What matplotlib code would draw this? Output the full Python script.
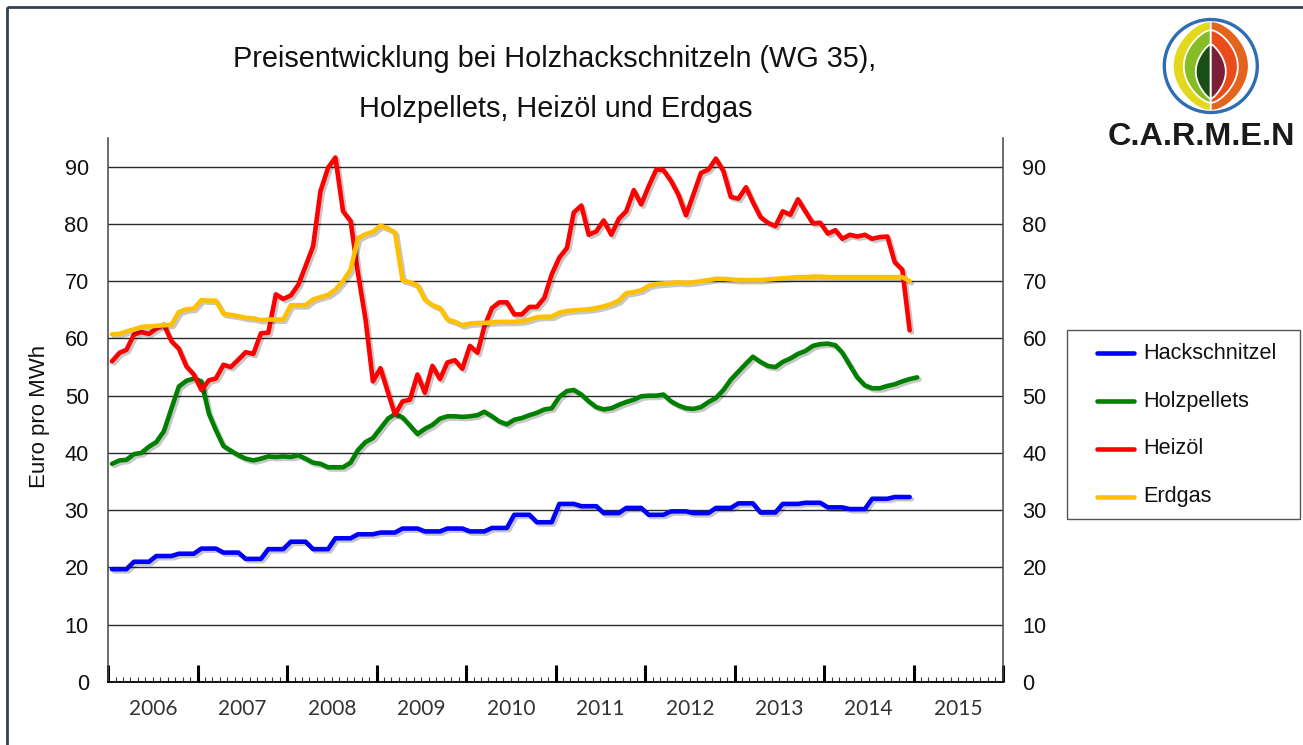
import numpy as np
import pandas as pd
import matplotlib
matplotlib.use('Agg')
import matplotlib.pyplot as plt
import matplotlib.dates as mdates
import matplotlib.patheffects as pe
from matplotlib.patches import Rectangle, Circle, Polygon
from matplotlib.lines import Line2D
from matplotlib.transforms import blended_transform_factory

plt.rcParams['font.family'] = ['Liberation Sans', 'DejaVu Sans']

# ---------------- data ----------------
series_names = ['Hackschnitzel', 'Holzpellets', 'Heizöl', 'Erdgas']
series_colors = ['#0000FF', '#008000', '#FF0000', '#FFC000']
start_month = '2006-01'

hackschnitzel = [
    19.7, 19.7, 19.7, 21.0, 21.0, 21.0, 22.0, 22.0, 22.0, 22.4, 22.4, 22.4,
    23.3, 23.3, 23.3, 22.6, 22.6, 22.6, 21.5, 21.5, 21.5, 23.2, 23.2, 23.2,
    24.5, 24.5, 24.5, 23.2, 23.2, 23.2, 25.1, 25.1, 25.1, 25.8, 25.8, 25.8,
    26.1, 26.1, 26.1, 26.8, 26.8, 26.8, 26.3, 26.3, 26.3, 26.8, 26.8, 26.8,
    26.3, 26.3, 26.3, 26.9, 26.9, 26.9, 29.2, 29.2, 29.2, 27.9, 27.9, 27.9,
    31.1, 31.1, 31.1, 30.7, 30.7, 30.7, 29.5, 29.5, 29.5, 30.4, 30.4, 30.4,
    29.2, 29.2, 29.2, 29.8, 29.8, 29.8, 29.5, 29.5, 29.5, 30.4, 30.4, 30.4,
    31.2, 31.2, 31.2, 29.6, 29.6, 29.6, 31.1, 31.1, 31.1, 31.3, 31.3, 31.3,
    30.5, 30.5, 30.5, 30.2, 30.2, 30.2, 32.0, 32.0, 32.0, 32.3, 32.3, 32.3]

holzpellets = [
    38.1, 38.7, 38.8, 39.8, 40.0, 41.1, 41.9, 43.8, 47.8, 51.6, 52.6, 53.0,
    52.5, 46.8, 44.0, 41.2, 40.4, 39.6, 39.0, 38.7, 39.0, 39.4, 39.3, 39.4,
    39.3, 39.6, 39.0, 38.3, 38.1, 37.5, 37.5, 37.5, 38.3, 40.5, 41.9, 42.6,
    44.3, 46.0, 46.8, 46.2, 44.8, 43.3, 44.2, 44.9, 46.0, 46.4, 46.4, 46.3,
    46.4, 46.6, 47.2, 46.4, 45.5, 45.0, 45.8, 46.1, 46.6, 47.0, 47.6, 47.8,
    49.8, 50.8, 51.0, 50.2, 49.0, 48.0, 47.6, 47.8, 48.4, 48.9, 49.3, 49.9,
    50.0, 50.0, 50.2, 49.0, 48.3, 47.8, 47.7, 48.0, 48.9, 49.6, 51.0, 52.8,
    54.2, 55.6, 56.8, 55.9, 55.2, 55.0, 55.9, 56.5, 57.3, 57.8, 58.7, 59.0,
    59.1, 58.8, 57.5, 55.3, 53.2, 51.8, 51.3, 51.3, 51.7, 52.0, 52.5, 52.9,
    53.2]

heizoel = [
    56.0, 57.5, 58.0, 60.7, 61.1, 60.8, 61.7, 62.4, 59.5, 58.2, 55.1, 53.7,
    51.0, 52.7, 53.0, 55.4, 55.0, 56.3, 57.6, 57.3, 60.9, 61.0, 67.7, 66.9,
    67.5, 69.4, 72.6, 76.1, 85.7, 89.8, 91.6, 82.2, 80.5, 71.4, 63.3, 52.5,
    54.8, 50.5, 46.7, 49.0, 49.3, 53.7, 50.5, 55.2, 52.9, 55.8, 56.2, 54.7,
    58.7, 57.5, 62.1, 65.3, 66.3, 66.3, 64.2, 64.2, 65.5, 65.5, 67.1, 71.2,
    74.1, 75.8, 82.0, 83.2, 78.1, 78.7, 80.6, 78.1, 80.9, 82.2, 85.9, 83.4,
    86.6, 89.5, 89.4, 87.5, 85.1, 81.5, 85.1, 88.9, 89.5, 91.4, 89.2, 84.7,
    84.4, 86.4, 83.8, 81.2, 80.2, 79.6, 82.2, 81.6, 84.3, 82.2, 80.1, 80.2,
    78.3, 78.9, 77.4, 78.1, 77.8, 78.1, 77.4, 77.7, 77.8, 73.3, 72.0, 61.4]

erdgas = [
    60.7, 60.8, 61.2, 61.6, 62.0, 62.1, 62.2, 62.3, 62.4, 64.6, 65.1, 65.2,
    66.7, 66.6, 66.6, 64.3, 64.1, 63.9, 63.6, 63.5, 63.2, 63.3, 63.3, 63.3,
    65.8, 65.8, 65.8, 66.8, 67.2, 67.6, 68.5, 70.0, 72.0, 77.5, 78.2, 78.6,
    79.7, 79.2, 78.5, 70.2, 69.8, 69.3, 66.8, 65.8, 65.3, 63.3, 62.9, 62.3,
    62.6, 62.7, 62.7, 62.8, 62.9, 62.9, 62.9, 63.0, 63.3, 63.7, 63.8, 63.8,
    64.5, 64.8, 64.9, 65.0, 65.1, 65.3, 65.6, 66.0, 66.6, 67.9, 68.1, 68.4,
    69.2, 69.5, 69.6, 69.7, 69.8, 69.7, 69.8, 70.0, 70.2, 70.4, 70.4, 70.3,
    70.2, 70.2, 70.2, 70.2, 70.3, 70.4, 70.5, 70.6, 70.7, 70.7, 70.8, 70.8,
    70.7, 70.7, 70.7, 70.7, 70.7, 70.7, 70.7, 70.7, 70.7, 70.7, 70.7, 70.0]

year_labels = ['2006', '2007', '2008', '2009', '2010',
               '2011', '2012', '2013', '2014', '2015']
y_ticks = [0, 10, 20, 30, 40, 50, 60, 70, 80, 90]
title_lines = ['Preisentwicklung bei Holzhackschnitzeln (WG 35),',
               'Holzpellets, Heizöl und Erdgas']
y_label = 'Euro pro MWh'
logo_text = 'C.A.R.M.E.N'

series_values = [hackschnitzel, holzpellets, heizoel, erdgas]

# ---------------- figure ----------------
W, H = 1303, 745
fig = plt.figure(figsize=(W / 100, H / 100), dpi=100)
fig.patch.set_facecolor('white')

ax_l, ax_r, ax_t, ax_b = 108.3, 1003.0, 138.0, 682.0
ax = fig.add_axes([ax_l / W, 1 - ax_b / H, (ax_r - ax_l) / W, (ax_b - ax_t) / H])
ax.set_facecolor('white')


def month_dates(n):
    return pd.date_range(start_month, periods=n, freq='MS') + pd.Timedelta(days=15)


shadow = [pe.SimpleLineShadow(offset=(1.6, -1.6), shadow_color='black', alpha=0.22),
          pe.Normal()]
for name, vals, col in zip(series_names, series_values, series_colors):
    ax.plot(month_dates(len(vals)), vals, color=col, lw=3.3,
            solid_joinstyle='round', solid_capstyle='round',
            path_effects=shadow, zorder=3, label=name)

ax.set_xlim(pd.Timestamp('2006-01-01'), pd.Timestamp('2016-01-01'))
ax.set_ylim(0, 95)
ax.set_yticks(y_ticks)
ax.yaxis.grid(True, color='#2a2a2a', lw=1.0)
ax.set_axisbelow(True)

ax.xaxis.set_major_locator(mdates.YearLocator())
ax.xaxis.set_minor_locator(mdates.MonthLocator())
ax.tick_params(axis='x', which='major', direction='in', length=12, width=2.2,
               color='black', labelbottom=False)
ax.tick_params(axis='x', which='minor', direction='in', length=3.6, width=0.8,
               color='#333333')
ax.tick_params(axis='y', which='both', length=0, pad=14, labelsize=15.7,
               labelleft=True, labelright=True, labelcolor='#111111')

for s in ['left', 'right']:
    ax.spines[s].set_color('#444444')
    ax.spines[s].set_linewidth(1.1)
ax.spines['bottom'].set_color('black')
ax.spines['bottom'].set_linewidth(1.3)
ax.spines['top'].set_visible(False)

trans = blended_transform_factory(ax.transData, ax.transAxes)
for lab in year_labels:
    ax.text(pd.Timestamp(f'{int(lab)}-07-02'), -27 / (ax_b - ax_t), lab,
            transform=trans, ha='center', va='center', fontsize=15,
            color='#333333', family=['Lato', 'DejaVu Sans'])

# ---------------- overlay (pixel coords) ----------------
ov = fig.add_axes([0, 0, 1, 1], zorder=5)
ov.set_xlim(0, W)
ov.set_ylim(H, 0)
ov.axis('off')
ov.patch.set_alpha(0)

# outer frame
ov.add_patch(Rectangle((7, 7), W + 20, H + 20, fill=False, ec='#34424F', lw=2.0))

# titles
ov.text(555, 67, title_lines[0], ha='center', va='baseline', fontsize=20.8, color='#111111')
ov.text(556, 117, title_lines[1], ha='center', va='baseline', fontsize=20.8, color='#111111')

# y label
ov.text(40, 416, y_label, ha='center', va='center', rotation=90, fontsize=16, color='#111111')

# legend
box = Rectangle((1066.7, 329.5), 233, 189.5, fill=False, ec='#555555', lw=1.0)
ov.add_patch(box)
for k, (name, col) in enumerate(zip(series_names, series_colors)):
    yy = 353.3 + k * 47.8
    ov.add_line(Line2D([1097, 1134], [yy, yy], color=col, lw=3.3, solid_capstyle='round'))
    ov.text(1143, yy, name, ha='left', va='center', fontsize=15.6, color='#111111')

# logo
cx, cy = 1210.8, 66.0


def leaf(top, bot, w, side, p, color):
    t = np.linspace(0, 1, 80)
    ys = top + t * (bot - top)
    xs = cx + side * w * np.sin(np.pi * t) ** p
    pts = np.column_stack([np.r_[xs, cx], np.r_[ys, top]])
    return Polygon(pts, closed=True, fc=color, ec='white', lw=1.3)


for side, cols in [(-1, ['#E3D81C', '#86BC25', '#1B4D17']),
                   (1, ['#E2641F', '#E94B1B', '#7B1F36'])]:
    ov.add_patch(leaf(21, 111, 38, side, 0.55, cols[0]))
    ov.add_patch(leaf(30, 103, 27, side, 0.62, cols[1]))
    ov.add_patch(leaf(44, 99, 15, side, 0.75, cols[2]))
ov.add_patch(Circle((cx, cy), 46.5, fill=False, ec='#2E6DB4', lw=2.4))
ov.text(1108, 137, logo_text, ha='left', va='center', fontsize=23.3,
        fontweight='bold', color='#1A1A1A')

fig.savefig('out.png', dpi=100, facecolor='white')
